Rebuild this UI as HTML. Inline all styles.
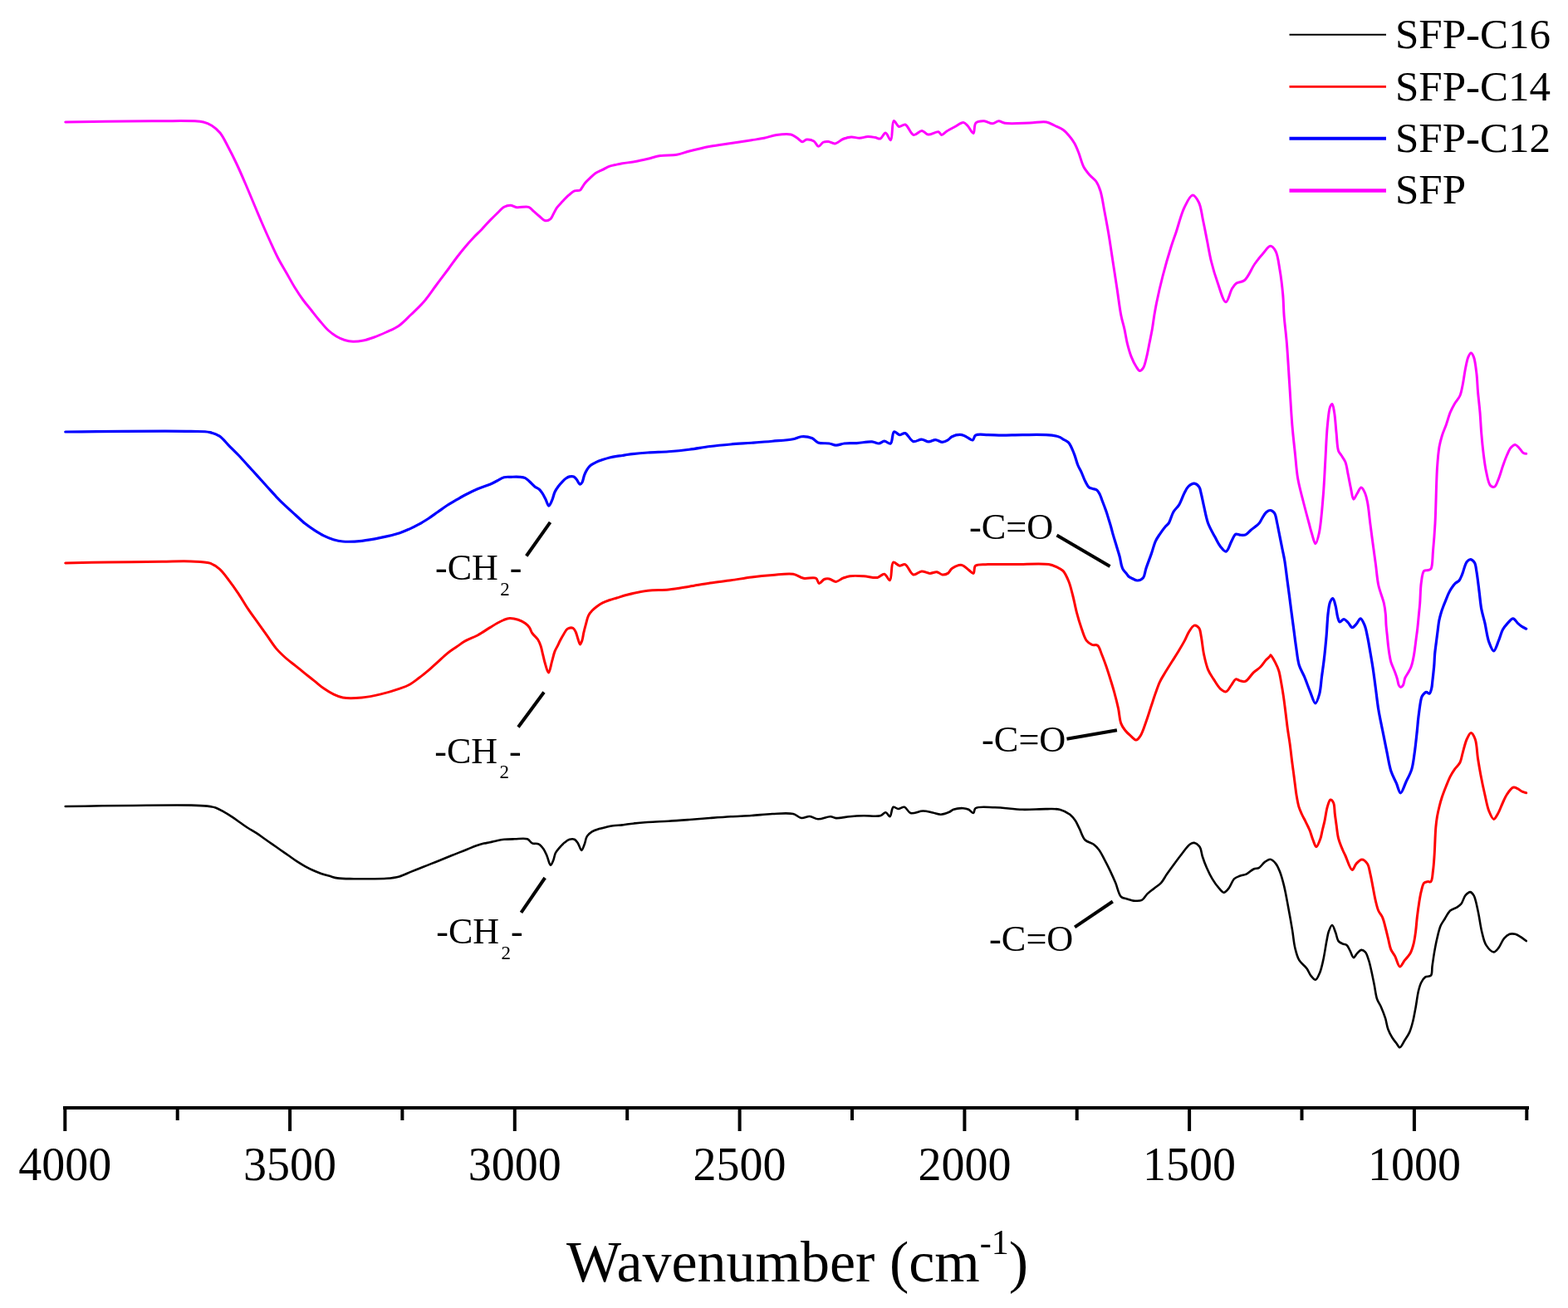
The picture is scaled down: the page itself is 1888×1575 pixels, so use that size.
<!DOCTYPE html>
<html><head><meta charset="utf-8"><title>FTIR spectra</title>
<style>html,body{margin:0;padding:0;background:#fff;width:1888px;height:1575px;overflow:hidden}svg{display:block}</style>
</head><body>
<svg width="1888" height="1575" viewBox="0 0 1888 1575"><rect x="0" y="0" width="1888" height="1575" fill="#fff"/>
<g fill="none" stroke-linejoin="round" stroke-linecap="round">
<path stroke="#ff00ff" stroke-width="3" d="M78.75,147.00C78.75,147.00 159.38,145.57 190.00,145.75C211.53,145.87 234.17,144.66 245.00,147.00C249.81,148.04 251.82,149.25 255.00,151.25C258.52,153.46 261.95,156.27 265.00,160.00C268.76,164.60 271.75,171.43 275.00,177.50C278.42,183.90 281.74,190.60 285.00,197.50C288.42,204.74 291.70,212.38 295.00,220.00C298.37,227.79 301.67,235.83 305.00,243.75C308.33,251.67 311.63,259.71 315.00,267.50C318.30,275.12 321.63,282.63 325.00,290.00C328.29,297.20 331.53,304.57 335.00,311.25C338.22,317.43 341.67,322.92 345.00,328.75C348.33,334.58 351.57,340.70 355.00,346.25C358.25,351.50 361.56,356.55 365.00,361.25C368.24,365.68 371.67,369.58 375.00,373.75C378.33,377.92 381.61,382.24 385.00,386.25C388.28,390.14 391.50,394.28 395.00,397.50C398.19,400.44 401.55,402.96 405.00,405.00C408.23,406.91 411.60,408.46 415.00,409.50C418.27,410.51 421.47,411.12 425.00,411.25C428.93,411.39 433.37,410.82 437.50,410.00C441.71,409.17 445.68,407.79 450.00,406.25C454.82,404.53 460.04,402.27 465.00,400.00C470.04,397.69 475.22,395.79 480.00,392.50C485.27,388.88 490.05,383.49 495.00,378.75C500.05,373.91 505.19,369.30 510.00,363.75C515.22,357.73 520.00,350.42 525.00,343.75C530.00,337.08 535.53,329.81 540.00,323.75C543.69,318.75 546.61,314.44 550.00,310.00C553.28,305.70 556.61,301.51 560.00,297.50C563.28,293.61 566.61,289.84 570.00,286.25C573.28,282.77 576.70,279.69 580.00,276.25C583.37,272.74 586.76,268.75 590.00,265.40C592.91,262.38 595.65,259.71 598.50,257.00C601.28,254.35 603.95,250.92 606.90,249.30C609.36,247.94 612.05,247.13 614.60,247.20C617.15,247.27 619.22,249.26 622.20,249.70C626.20,250.28 633.03,248.03 636.60,249.30C639.23,250.24 640.46,252.64 642.50,254.40C644.69,256.29 646.92,258.42 649.30,260.30C651.74,262.23 654.52,265.45 657.00,265.80C659.02,266.08 661.36,264.98 662.90,263.70C664.50,262.36 665.12,259.90 666.30,257.80C667.64,255.43 668.77,252.65 670.50,250.20C672.38,247.53 674.93,245.02 677.30,242.50C679.72,239.92 682.36,237.10 684.90,234.90C687.16,232.94 689.30,230.76 691.70,229.80C693.86,228.94 696.91,229.93 698.50,229.00C699.75,228.27 700.12,226.86 701.00,225.60C702.06,224.08 703.01,222.19 704.40,220.50C706.02,218.52 708.23,216.54 710.30,214.60C712.46,212.57 714.58,210.29 717.10,208.60C719.67,206.87 722.77,205.80 725.60,204.40C728.43,203.00 731.22,201.26 734.10,200.20C736.85,199.19 739.84,198.69 742.50,198.10C744.88,197.58 746.56,197.26 749.30,196.80C753.45,196.10 759.84,195.44 765.00,194.50C770.07,193.58 775.01,192.41 780.00,191.25C785.01,190.08 789.60,188.34 795.00,187.50C801.15,186.55 808.86,187.30 815.00,186.25C820.41,185.33 824.34,183.45 830.00,182.00C837.25,180.14 846.64,177.84 855.00,176.25C863.30,174.67 871.67,173.75 880.00,172.50C888.33,171.25 897.73,169.90 905.00,168.75C910.64,167.86 915.02,167.29 920.00,166.25C925.02,165.21 929.77,163.22 935.00,162.50C940.57,161.73 948.00,160.88 952.50,162.00C955.66,162.78 957.65,164.75 960.00,166.25C962.22,167.67 964.25,170.63 966.25,170.75C967.98,170.85 969.29,168.27 971.25,168.00C973.71,167.66 977.60,168.57 980.00,170.00C982.31,171.38 983.58,176.12 985.50,176.25C987.34,176.37 989.14,172.19 991.25,171.25C993.17,170.40 995.31,170.30 997.50,170.50C1000.03,170.73 1002.79,173.30 1005.50,173.00C1008.61,172.65 1011.69,168.84 1015.00,167.50C1018.20,166.20 1021.65,165.20 1025.00,165.00C1028.31,164.80 1031.67,166.33 1035.00,166.25C1038.34,166.17 1041.77,164.60 1045.00,164.50C1048.01,164.41 1051.09,165.03 1053.75,165.50C1056.02,165.90 1058.08,167.60 1060.00,167.00C1062.32,166.27 1064.23,159.89 1066.25,160.00C1068.41,160.12 1070.92,169.12 1072.50,168.75C1074.84,168.20 1073.74,146.23 1076.25,145.50C1077.83,145.04 1080.08,151.86 1082.50,152.50C1084.72,153.09 1087.56,149.28 1090.00,150.00C1093.46,151.02 1096.31,161.69 1100.00,162.50C1103.08,163.18 1106.94,157.38 1110.00,157.50C1112.71,157.60 1114.58,161.58 1117.50,162.00C1121.05,162.51 1127.18,157.98 1130.00,158.75C1131.80,159.24 1132.28,162.38 1133.75,162.50C1135.52,162.64 1137.62,159.50 1140.00,158.00C1142.90,156.17 1146.65,154.26 1150.00,152.50C1153.32,150.76 1157.30,147.26 1160.00,147.50C1162.02,147.68 1163.31,149.57 1165.00,151.25C1167.30,153.54 1170.34,160.85 1172.00,160.50C1173.75,160.13 1172.56,150.41 1175.00,148.00C1177.18,145.85 1181.68,145.63 1185.00,145.75C1188.35,145.87 1191.93,148.89 1195.00,148.75C1197.70,148.63 1199.99,145.82 1202.50,145.75C1204.99,145.68 1206.61,147.71 1210.00,148.25C1216.61,149.29 1231.01,148.26 1240.00,148.00C1247.34,147.79 1254.57,146.03 1260.00,147.00C1264.00,147.71 1266.69,149.72 1270.00,151.25C1273.36,152.80 1277.06,154.13 1280.00,156.25C1282.87,158.32 1285.21,161.05 1287.50,163.75C1289.80,166.47 1291.92,169.30 1293.75,172.50C1295.71,175.92 1297.07,179.55 1298.75,183.75C1300.81,188.91 1302.39,196.39 1305.00,201.25C1307.14,205.24 1309.89,208.24 1312.50,211.25C1314.91,214.02 1317.96,215.78 1320.00,218.75C1322.20,221.95 1323.54,225.41 1325.00,230.00C1327.10,236.60 1328.37,246.46 1330.00,255.00C1331.71,263.94 1333.40,272.94 1335.00,282.50C1336.74,292.87 1338.33,304.17 1340.00,315.00C1341.67,325.83 1343.35,336.67 1345.00,347.50C1346.65,358.33 1348.11,371.00 1349.90,380.00C1351.19,386.49 1352.77,391.04 1354.00,396.60C1355.23,402.14 1355.93,407.77 1357.30,413.30C1358.69,418.88 1360.33,424.94 1362.30,429.90C1364.01,434.19 1366.14,438.52 1368.10,441.50C1369.49,443.61 1370.82,446.35 1372.30,446.50C1373.64,446.64 1375.31,444.93 1376.50,443.20C1378.42,440.41 1379.39,434.61 1380.60,429.90C1381.93,424.70 1382.88,418.84 1384.00,413.30C1385.12,407.74 1386.33,402.17 1387.30,396.60C1388.26,391.07 1388.91,385.39 1389.80,380.00C1390.65,374.87 1391.28,370.94 1392.50,365.00C1394.30,356.22 1397.16,343.50 1400.00,332.50C1402.96,321.01 1406.97,307.13 1410.00,297.50C1412.16,290.63 1413.76,286.62 1416.00,280.00C1418.93,271.34 1422.05,258.08 1426.00,250.00C1428.98,243.90 1432.78,235.19 1436.00,235.00C1438.57,234.84 1441.54,239.89 1443.50,243.75C1446.19,249.06 1446.89,257.61 1448.50,265.00C1450.24,272.98 1451.83,281.67 1453.50,290.00C1455.17,298.33 1456.43,306.72 1458.50,315.00C1460.59,323.38 1463.07,331.85 1466.00,340.00C1468.91,348.10 1472.85,363.70 1476.00,363.75C1478.63,363.79 1481.00,351.54 1483.50,347.50C1485.17,344.80 1486.27,342.87 1488.50,341.25C1491.08,339.38 1495.38,340.05 1498.50,337.50C1503.14,333.71 1506.90,323.28 1511.00,317.50C1514.38,312.73 1517.68,308.71 1521.00,305.00C1523.92,301.73 1527.08,296.25 1529.75,296.25C1532.01,296.25 1534.32,299.44 1536.00,302.50C1538.72,307.45 1539.60,316.93 1541.00,325.00C1542.60,334.25 1543.90,345.44 1544.75,355.00C1545.53,363.70 1545.42,371.08 1546.10,380.00C1546.89,390.31 1548.39,401.07 1549.40,413.30C1550.63,428.25 1551.60,446.58 1552.70,463.20C1553.80,479.81 1554.74,498.07 1556.00,513.00C1557.03,525.22 1558.25,535.49 1559.40,546.30C1560.49,556.56 1561.00,566.51 1562.70,576.30C1564.36,585.90 1567.12,595.40 1569.40,604.50C1571.56,613.10 1574.15,622.60 1576.00,629.50C1577.31,634.38 1578.10,637.83 1579.40,642.00C1580.73,646.27 1582.42,654.81 1583.90,654.80C1585.38,654.79 1587.03,647.68 1588.30,642.00C1590.64,631.53 1592.04,611.11 1593.30,596.20C1594.50,582.01 1594.97,568.47 1595.80,554.60C1596.63,540.73 1597.10,524.84 1598.30,513.00C1599.20,504.12 1599.89,493.98 1601.60,489.80C1602.32,488.03 1603.38,486.26 1604.10,486.40C1605.22,486.62 1605.88,492.28 1606.60,496.40C1607.72,502.83 1608.23,513.37 1609.10,521.40C1609.91,528.87 1609.94,538.44 1611.60,543.00C1612.47,545.39 1613.71,546.11 1614.90,548.00C1616.42,550.40 1618.58,553.00 1619.90,556.30C1621.56,560.45 1622.13,566.17 1623.20,571.30C1624.33,576.69 1625.34,582.69 1626.50,587.90C1627.55,592.59 1628.28,600.96 1629.80,601.20C1630.96,601.38 1632.52,596.78 1634.00,594.50C1635.57,592.08 1637.39,587.13 1639.00,587.10C1640.44,587.08 1642.04,590.51 1643.20,592.90C1644.70,596.00 1645.54,599.84 1646.50,604.50C1647.90,611.31 1648.69,621.54 1649.80,630.00C1650.89,638.38 1651.98,646.68 1653.10,655.00C1654.22,663.31 1655.38,671.60 1656.50,679.90C1657.62,688.20 1658.08,696.85 1659.80,704.80C1661.44,712.35 1664.95,720.07 1666.40,726.50C1667.52,731.49 1667.97,735.56 1668.40,740.00C1668.82,744.29 1668.68,748.47 1669.00,752.70C1669.32,756.94 1669.87,761.17 1670.30,765.40C1670.73,769.63 1671.13,774.18 1671.60,778.10C1672.01,781.50 1672.37,784.44 1672.90,787.60C1673.43,790.77 1673.97,794.28 1674.80,797.10C1675.50,799.48 1676.46,801.38 1677.30,803.50C1678.13,805.61 1678.99,807.58 1679.80,809.80C1680.69,812.23 1681.65,814.93 1682.40,817.50C1683.14,820.03 1683.37,823.33 1684.30,825.10C1684.91,826.26 1685.69,827.54 1686.50,827.60C1687.37,827.66 1688.60,826.35 1689.40,825.10C1690.64,823.15 1690.76,818.86 1691.90,816.20C1692.92,813.82 1694.52,811.94 1695.70,809.80C1696.85,807.71 1698.04,805.65 1698.90,803.50C1699.73,801.41 1700.22,799.46 1700.80,797.10C1701.50,794.26 1702.17,790.77 1702.70,787.60C1703.23,784.44 1703.58,781.27 1704.00,778.10C1704.42,774.93 1704.78,771.77 1705.20,768.60C1705.62,765.41 1706.09,762.43 1706.50,759.00C1706.97,755.07 1707.45,749.80 1707.80,746.30C1708.04,743.84 1708.16,742.50 1708.40,740.00C1708.75,736.35 1709.28,731.69 1709.70,726.50C1710.27,719.44 1710.22,708.61 1711.30,701.50C1712.12,696.09 1712.51,689.47 1714.70,687.40C1716.00,686.18 1718.23,686.98 1719.70,686.50C1720.95,686.09 1722.12,686.14 1723.00,684.90C1725.14,681.88 1724.74,671.28 1725.50,663.30C1726.44,653.41 1727.27,643.03 1728.00,630.00C1729.04,611.52 1729.34,579.82 1730.50,562.90C1731.21,552.57 1731.79,544.97 1733.00,538.00C1733.89,532.84 1734.93,529.09 1736.30,524.70C1737.69,520.23 1739.68,515.98 1741.30,511.40C1743.01,506.57 1744.46,500.84 1746.30,496.40C1747.85,492.67 1749.40,489.67 1751.30,486.40C1753.26,483.03 1756.27,480.20 1757.90,476.50C1759.65,472.53 1760.18,468.11 1761.20,463.20C1762.45,457.23 1763.35,449.17 1764.60,443.20C1765.62,438.29 1766.46,433.18 1767.90,429.90C1768.85,427.73 1770.10,424.90 1771.20,424.90C1772.30,424.90 1773.57,427.55 1774.50,429.90C1776.21,434.22 1777.07,443.00 1777.90,449.80C1778.76,456.86 1778.85,464.02 1779.50,471.50C1780.20,479.52 1781.30,488.09 1782.00,496.40C1782.70,504.72 1783.00,513.08 1783.70,521.40C1784.40,529.71 1785.19,538.31 1786.20,546.30C1787.14,553.77 1788.00,561.21 1789.50,567.90C1790.84,573.87 1791.95,582.00 1794.50,584.60C1795.90,586.03 1798.05,586.81 1799.50,586.20C1801.61,585.31 1802.96,580.00 1804.50,576.30C1806.34,571.88 1807.79,566.13 1809.50,561.30C1811.12,556.72 1812.70,551.97 1814.50,548.00C1816.04,544.60 1817.45,540.95 1819.40,538.80C1820.88,537.17 1822.77,535.41 1824.40,535.50C1826.10,535.60 1827.79,538.12 1829.40,539.70C1831.14,541.42 1832.74,544.49 1834.40,545.50C1835.50,546.17 1837.70,546.30 1837.70,546.30"/>
<path stroke="#0000ff" stroke-width="3.2" d="M78.75,520.00C78.75,520.00 201.76,518.72 230.00,519.40C241.00,519.67 246.67,519.25 252.90,520.60C257.45,521.59 260.73,522.75 264.30,525.10C268.40,527.81 271.90,532.78 275.70,536.60C279.50,540.41 283.34,544.06 287.10,548.00C290.97,552.05 294.78,556.41 298.60,560.60C302.41,564.77 306.20,568.92 310.00,573.10C313.80,577.29 317.60,581.50 321.40,585.70C325.20,589.90 328.94,594.26 332.80,598.30C336.57,602.25 340.43,606.04 344.30,609.70C348.07,613.27 351.90,616.57 355.70,620.00C359.50,623.43 363.20,627.19 367.10,630.30C370.81,633.26 374.64,635.81 378.50,638.30C382.28,640.74 386.10,643.17 390.00,645.10C393.74,646.95 397.55,648.54 401.40,649.70C405.15,650.82 408.32,651.62 412.80,652.00C419.09,652.53 428.10,652.06 435.70,651.30C443.34,650.53 450.92,648.99 458.50,647.40C466.15,645.79 475.14,643.73 481.40,641.70C485.92,640.23 489.03,638.80 492.80,637.10C496.63,635.37 500.43,633.47 504.20,631.40C508.07,629.28 511.92,626.96 515.70,624.50C519.55,622.00 523.30,619.17 527.10,616.50C530.90,613.83 534.65,610.99 538.50,608.50C542.26,606.07 546.20,603.85 549.90,601.70C553.36,599.69 556.27,597.95 560.00,596.00C564.47,593.66 569.95,590.90 575.00,588.75C579.95,586.64 585.75,585.03 590.00,583.20C593.28,581.79 595.68,580.42 598.50,579.00C601.31,577.58 604.01,575.47 606.90,574.70C609.65,573.97 612.44,574.37 615.40,574.30C618.64,574.22 622.56,574.01 625.60,574.30C628.11,574.54 630.40,574.66 632.40,575.60C634.35,576.52 635.71,578.22 637.50,579.80C639.61,581.68 642.03,584.56 644.20,586.20C645.94,587.51 647.86,587.96 649.30,589.20C650.67,590.38 651.58,591.74 652.70,593.40C654.12,595.51 655.56,598.41 656.90,601.00C658.26,603.64 659.45,609.04 660.80,609.10C662.03,609.15 663.48,605.15 664.60,602.70C665.95,599.76 666.60,595.47 668.00,592.50C669.20,589.95 670.65,587.92 672.20,585.80C673.75,583.69 675.63,581.53 677.30,579.80C678.72,578.34 680.02,577.00 681.50,576.00C682.86,575.08 684.27,574.25 685.80,573.90C687.36,573.54 689.39,573.32 690.80,573.90C692.18,574.47 693.05,575.96 694.20,577.30C695.61,578.95 697.21,583.10 698.50,583.20C699.40,583.27 700.28,581.90 701.00,580.70C702.15,578.79 702.56,574.84 703.60,572.20C704.56,569.77 705.58,567.43 706.90,565.40C708.14,563.49 709.51,561.71 711.20,560.30C712.91,558.87 714.91,557.95 717.10,556.90C719.63,555.69 722.75,554.59 725.60,553.60C728.42,552.62 731.26,551.72 734.10,551.00C736.89,550.29 739.84,549.72 742.50,549.30C744.88,548.92 747.14,548.82 749.30,548.50C751.29,548.21 752.42,547.85 755.00,547.50C760.38,546.76 771.66,545.63 780.00,545.00C788.33,544.38 796.67,544.37 805.00,543.75C813.34,543.12 821.68,542.29 830.00,541.25C838.35,540.21 846.65,538.54 855.00,537.50C863.32,536.46 871.66,535.71 880.00,535.00C888.33,534.29 896.67,533.87 905.00,533.25C913.33,532.62 921.67,532.00 930.00,531.25C938.34,530.50 948.59,530.02 955.00,528.75C959.13,527.93 961.45,526.02 965.00,525.75C968.90,525.45 974.01,526.08 977.50,527.50C980.50,528.72 981.95,531.87 985.00,533.00C988.65,534.35 994.41,533.34 998.30,534.00C1001.42,534.53 1003.70,536.14 1006.60,536.20C1009.77,536.27 1012.91,534.45 1016.60,534.00C1021.07,533.45 1026.36,533.91 1031.60,533.60C1037.40,533.25 1045.02,531.52 1049.90,531.90C1053.23,532.16 1055.62,534.20 1058.20,534.00C1060.56,533.82 1062.52,531.25 1064.80,531.20C1067.21,531.15 1070.42,534.93 1072.30,534.00C1074.84,532.73 1074.13,520.86 1076.50,519.90C1078.20,519.21 1080.84,523.35 1083.10,523.60C1085.28,523.84 1087.52,521.02 1089.80,521.60C1093.04,522.42 1096.17,530.60 1099.80,531.60C1102.89,532.45 1106.55,528.98 1109.70,529.10C1112.63,529.21 1115.30,531.83 1118.10,531.90C1120.86,531.97 1123.64,529.52 1126.40,529.60C1129.18,529.68 1132.10,532.45 1134.70,532.40C1137.03,532.36 1139.34,531.05 1141.30,529.90C1143.19,528.79 1144.11,526.72 1146.30,525.70C1149.25,524.32 1154.71,523.19 1158.00,523.60C1160.57,523.92 1162.40,525.56 1164.60,526.60C1166.83,527.66 1169.62,530.42 1171.30,529.90C1172.89,529.41 1172.61,525.30 1174.60,524.10C1177.59,522.29 1184.47,523.61 1189.60,523.60C1194.99,523.59 1200.11,524.07 1206.20,524.10C1213.66,524.14 1222.07,523.63 1231.10,523.60C1241.89,523.57 1258.44,523.04 1266.60,524.10C1271.00,524.67 1274.20,525.56 1276.60,526.60C1278.10,527.25 1278.68,527.96 1280.00,528.80C1281.83,529.96 1284.65,530.76 1286.60,532.90C1289.31,535.87 1291.42,541.74 1293.30,546.30C1295.14,550.78 1296.15,555.98 1297.80,560.00C1299.17,563.34 1300.77,565.77 1302.20,568.90C1303.74,572.28 1305.08,576.45 1306.70,579.60C1308.08,582.27 1309.34,585.25 1311.10,586.70C1312.43,587.80 1314.03,587.84 1315.60,588.40C1317.29,589.01 1319.46,589.08 1320.90,590.20C1322.44,591.40 1323.40,593.62 1324.40,595.60C1325.49,597.75 1326.20,600.33 1327.10,602.70C1328.00,605.07 1328.92,607.43 1329.80,609.80C1330.68,612.16 1331.56,614.39 1332.40,616.90C1333.33,619.69 1334.20,622.83 1335.10,625.80C1336.00,628.77 1336.93,631.66 1337.80,634.70C1338.70,637.86 1339.50,641.24 1340.40,644.40C1341.27,647.44 1342.20,650.33 1343.10,653.30C1344.00,656.27 1344.92,659.23 1345.80,662.20C1346.68,665.16 1347.66,668.12 1348.40,671.10C1349.13,674.05 1349.51,677.43 1350.20,680.00C1350.74,682.01 1351.06,683.61 1352.00,685.30C1353.05,687.19 1355.12,689.09 1356.40,690.70C1357.42,691.99 1357.99,693.24 1359.10,694.20C1360.24,695.19 1361.64,695.77 1363.20,696.50C1365.11,697.39 1367.61,699.10 1369.80,699.00C1372.05,698.89 1374.87,697.62 1376.50,695.70C1378.51,693.34 1378.45,688.95 1379.80,684.90C1381.57,679.58 1384.38,672.41 1386.40,666.60C1388.22,661.36 1389.47,655.78 1391.40,651.60C1392.91,648.33 1394.54,646.09 1396.40,643.30C1398.41,640.29 1401.06,636.60 1403.10,634.20C1404.57,632.47 1405.89,631.97 1407.20,630.00C1409.29,626.85 1410.69,620.10 1413.00,616.20C1414.96,612.90 1417.66,611.15 1419.70,607.80C1422.22,603.67 1424.18,596.95 1426.40,592.90C1428.04,589.90 1429.24,587.22 1431.30,585.40C1433.18,583.74 1435.89,581.93 1438.00,582.10C1440.05,582.26 1442.43,584.29 1443.80,586.20C1445.32,588.31 1445.47,591.31 1446.30,594.50C1447.41,598.75 1448.35,604.12 1449.60,609.50C1451.06,615.81 1452.27,623.65 1454.60,630.00C1456.78,635.96 1460.21,641.58 1462.90,646.60C1465.19,650.88 1467.09,655.23 1469.60,658.30C1471.62,660.78 1474.19,664.46 1476.20,664.10C1478.75,663.64 1480.79,655.32 1482.90,651.60C1484.65,648.53 1485.86,644.25 1487.90,643.30C1489.37,642.62 1491.11,643.96 1492.90,644.10C1494.94,644.26 1497.43,644.87 1499.50,644.10C1501.90,643.20 1503.73,640.39 1506.20,638.30C1509.19,635.77 1513.90,632.67 1516.20,630.00C1517.81,628.12 1518.26,626.46 1519.50,624.50C1520.97,622.18 1522.58,618.69 1524.50,617.00C1526.01,615.67 1527.86,614.40 1529.50,614.50C1531.20,614.60 1533.20,616.01 1534.50,617.80C1536.38,620.40 1536.89,626.12 1537.80,630.00C1538.62,633.48 1539.01,636.06 1539.80,640.00C1540.94,645.72 1542.74,654.72 1544.00,661.00C1545.03,666.11 1545.94,669.77 1546.80,674.90C1547.85,681.16 1548.67,688.91 1549.60,695.90C1550.53,702.88 1551.48,709.82 1552.40,716.80C1553.32,723.79 1554.18,730.80 1555.10,737.80C1556.02,744.80 1556.97,751.81 1557.90,758.80C1558.83,765.78 1559.65,772.73 1560.70,779.70C1561.75,786.70 1562.33,794.51 1564.20,800.70C1565.79,805.95 1568.41,809.70 1570.50,814.70C1572.85,820.32 1575.15,827.18 1577.50,832.80C1579.59,837.80 1581.84,846.81 1583.80,846.80C1585.55,846.79 1587.47,840.01 1588.70,835.60C1590.32,829.80 1590.57,821.68 1591.50,814.70C1592.43,807.71 1593.42,801.20 1594.30,793.70C1595.31,785.07 1596.28,775.11 1597.10,765.80C1597.92,756.48 1598.22,745.34 1599.20,737.80C1599.87,732.62 1600.23,727.83 1601.60,724.80C1602.47,722.87 1603.92,720.44 1604.90,720.60C1606.22,720.81 1607.28,726.41 1608.20,729.80C1609.28,733.79 1609.64,739.62 1610.70,743.10C1611.43,745.48 1611.92,748.52 1613.20,748.90C1614.44,749.27 1616.56,745.52 1618.20,745.60C1619.90,745.69 1621.60,748.13 1623.20,749.70C1624.95,751.42 1626.46,755.45 1628.20,755.60C1629.80,755.74 1631.62,753.06 1633.20,751.40C1634.98,749.53 1636.59,744.71 1638.20,744.80C1639.94,744.89 1641.87,749.89 1643.20,753.10C1644.78,756.91 1645.47,761.60 1646.50,766.40C1647.70,772.00 1648.72,778.47 1649.80,784.70C1650.92,791.19 1652.04,797.58 1653.10,804.60C1654.28,812.45 1655.38,821.27 1656.50,829.60C1657.62,837.91 1658.43,846.17 1659.80,854.50C1661.19,862.97 1663.12,871.55 1664.80,880.00C1666.46,888.35 1668.11,896.74 1669.80,904.90C1671.44,912.80 1672.59,921.38 1674.80,928.20C1676.63,933.85 1679.36,938.52 1681.40,943.20C1683.19,947.31 1684.56,954.75 1686.40,954.80C1688.40,954.85 1690.83,946.08 1693.00,941.50C1695.27,936.70 1698.05,931.93 1699.70,926.60C1701.46,920.91 1701.99,915.08 1703.00,908.30C1704.24,899.91 1705.41,888.27 1706.30,880.00C1706.99,873.56 1707.21,868.92 1708.00,862.80C1708.91,855.72 1710.17,844.21 1711.60,840.00C1712.19,838.25 1712.63,837.57 1713.50,836.50C1714.47,835.31 1715.98,833.46 1717.30,833.30C1718.52,833.16 1720.09,835.58 1721.10,835.20C1722.38,834.72 1723.08,831.26 1723.70,828.90C1724.44,826.10 1724.47,823.13 1724.90,819.40C1725.51,814.08 1726.44,805.72 1726.90,800.00C1727.26,795.47 1727.22,792.00 1727.60,787.80C1728.00,783.29 1728.72,778.47 1729.30,773.80C1729.88,769.13 1730.50,764.33 1731.10,759.80C1731.67,755.51 1732.04,751.19 1732.80,747.30C1733.48,743.81 1734.38,740.55 1735.30,737.50C1736.13,734.76 1737.06,732.30 1738.00,729.80C1738.90,727.40 1739.81,725.24 1740.80,722.80C1741.89,720.12 1743.05,716.95 1744.30,714.40C1745.40,712.14 1746.51,710.17 1747.80,708.20C1749.08,706.24 1750.41,704.15 1752.00,702.60C1753.47,701.16 1755.55,700.68 1756.90,699.10C1758.44,697.30 1759.67,693.79 1760.40,692.10C1760.80,691.17 1760.82,690.94 1761.20,689.90C1762.15,687.33 1764.12,679.30 1766.20,676.60C1767.45,674.97 1768.95,673.58 1770.40,673.60C1772.00,673.62 1774.18,675.51 1775.40,677.40C1777.02,679.91 1777.11,683.83 1777.90,688.20C1779.09,694.79 1780.19,705.34 1781.20,713.20C1782.10,720.21 1782.53,726.80 1783.70,733.10C1784.78,738.92 1786.41,743.69 1787.80,749.70C1789.44,756.80 1790.53,766.83 1792.80,773.00C1794.43,777.42 1796.70,783.85 1798.60,783.80C1800.61,783.75 1802.70,775.64 1804.50,771.40C1806.34,767.08 1807.55,761.67 1809.50,758.10C1811.00,755.36 1812.55,753.53 1814.50,751.40C1816.63,749.08 1819.61,744.73 1821.90,744.80C1823.98,744.86 1825.78,748.88 1827.70,750.60C1829.41,752.14 1831.06,753.57 1832.80,754.70C1834.40,755.73 1837.70,757.20 1837.70,757.20"/>
<path stroke="#ff0000" stroke-width="3" d="M78.75,678.00C78.75,678.00 111.90,677.28 130.00,677.00C150.38,676.68 176.66,676.42 195.00,676.25C208.46,676.12 219.58,675.54 230.00,676.00C238.45,676.37 246.77,676.17 252.90,678.20C257.57,679.75 260.74,682.04 264.30,685.10C268.42,688.64 271.99,693.98 275.70,698.80C279.60,703.86 283.37,709.23 287.10,714.80C291.01,720.64 294.69,727.26 298.60,733.10C302.33,738.67 306.20,743.77 310.00,749.10C313.80,754.43 317.60,759.77 321.40,765.10C325.20,770.43 328.78,776.37 332.80,781.10C336.45,785.40 340.38,789.01 344.30,792.50C348.02,795.81 351.90,798.55 355.70,801.60C359.50,804.65 363.30,807.75 367.10,810.80C370.90,813.85 374.69,816.86 378.50,819.90C382.33,822.96 386.08,826.38 390.00,829.10C393.72,831.68 397.51,834.06 401.40,835.90C405.12,837.66 408.26,839.21 412.80,840.00C419.04,841.09 428.11,840.68 435.70,840.00C443.34,839.32 450.94,837.70 458.50,835.90C466.18,834.08 475.13,831.29 481.40,829.10C485.90,827.53 489.11,826.50 492.80,824.50C496.73,822.37 500.43,819.31 504.20,816.50C508.07,813.62 511.93,810.59 515.70,807.40C519.56,804.13 523.30,800.53 527.10,797.10C530.90,793.67 534.60,789.91 538.50,786.80C542.21,783.84 546.21,781.36 549.90,778.80C553.36,776.40 556.20,774.05 560.00,771.90C564.41,769.40 570.08,767.66 575.00,765.00C580.09,762.25 585.69,758.24 590.00,755.60C593.22,753.62 595.64,752.07 598.50,750.50C601.28,748.97 604.19,747.30 606.90,746.30C609.24,745.44 611.19,744.70 613.70,744.60C616.75,744.48 620.73,745.28 623.90,746.30C626.94,747.28 630.04,748.81 632.40,750.50C634.46,751.98 636.11,753.65 637.50,755.60C638.92,757.60 639.31,760.17 640.80,762.40C642.54,764.99 645.87,767.32 647.60,770.00C649.17,772.42 650.04,774.84 651.00,777.60C652.08,780.71 652.75,784.40 653.60,787.80C654.45,791.20 655.03,794.49 656.10,798.00C657.28,801.87 659.12,810.04 660.50,810.00C661.96,809.96 663.31,800.71 664.60,796.30C665.80,792.20 666.69,787.76 668.00,784.40C669.03,781.76 670.28,779.87 671.40,777.60C672.51,775.34 673.49,773.11 674.70,770.80C676.00,768.32 677.51,765.54 679.00,763.20C680.35,761.07 681.33,758.43 683.20,757.30C685.02,756.20 688.28,755.62 690.00,756.40C691.62,757.14 692.46,759.55 693.40,761.50C694.48,763.74 695.02,766.73 695.90,769.20C696.73,771.52 697.60,775.86 698.50,775.90C699.30,775.93 700.33,772.76 701.00,770.80C701.82,768.39 702.03,765.33 702.70,762.40C703.44,759.16 704.34,755.65 705.30,752.20C706.30,748.59 707.11,744.20 708.60,741.20C709.79,738.81 711.24,737.11 712.90,735.30C714.62,733.43 716.70,731.76 718.80,730.20C720.93,728.62 723.14,727.15 725.60,725.90C728.22,724.56 731.25,723.49 734.10,722.50C736.89,721.53 739.42,720.92 742.50,720.00C746.25,718.88 750.08,717.48 755.00,716.25C761.87,714.54 771.63,712.29 780.00,711.25C788.30,710.22 796.69,710.83 805.00,710.00C813.35,709.17 821.67,707.58 830.00,706.25C838.34,704.92 846.65,703.25 855.00,702.00C863.32,700.75 871.67,699.92 880.00,698.75C888.34,697.58 896.65,696.04 905.00,695.00C913.32,693.96 921.66,693.13 930.00,692.50C938.33,691.88 948.20,690.12 955.00,691.25C959.99,692.08 963.06,695.39 967.50,696.25C972.19,697.15 979.39,694.49 982.50,696.25C984.67,697.48 984.64,702.21 986.25,702.50C987.94,702.80 990.32,698.37 992.50,697.50C994.36,696.76 996.23,696.68 998.30,697.00C1000.86,697.39 1003.86,700.51 1006.60,700.40C1009.39,700.29 1012.07,697.33 1014.90,696.20C1017.64,695.11 1019.99,694.18 1023.30,693.70C1027.86,693.04 1034.37,693.42 1039.90,693.70C1045.44,693.98 1052.01,696.23 1056.50,695.40C1059.85,694.78 1062.34,690.73 1064.80,691.20C1067.36,691.68 1069.79,699.17 1071.50,698.70C1074.02,698.00 1072.61,678.52 1075.60,677.10C1077.47,676.22 1080.61,680.87 1083.10,681.20C1085.34,681.50 1087.58,678.84 1089.80,679.60C1093.17,680.75 1096.09,691.05 1099.80,692.00C1102.84,692.78 1106.35,688.15 1109.70,687.90C1112.99,687.66 1116.51,690.33 1119.70,690.40C1122.59,690.46 1125.43,688.37 1128.00,688.70C1130.41,689.01 1132.43,691.75 1134.70,692.00C1136.87,692.24 1139.41,691.56 1141.30,690.40C1143.31,689.17 1144.02,686.17 1146.30,684.60C1149.20,682.60 1154.54,679.94 1158.00,680.40C1161.12,680.82 1163.79,684.41 1166.30,686.20C1168.41,687.70 1170.73,690.88 1172.10,690.40C1173.68,689.84 1172.38,683.10 1174.60,681.20C1177.40,678.81 1183.61,679.92 1189.60,679.60C1198.49,679.13 1211.23,679.60 1222.80,679.60C1235.49,679.60 1253.90,678.19 1262.70,679.60C1267.22,680.33 1269.70,681.50 1272.70,682.90C1275.41,684.16 1277.87,685.14 1280.00,687.40C1282.73,690.29 1284.83,695.25 1286.70,699.80C1288.78,704.85 1290.04,710.55 1291.60,716.50C1293.36,723.21 1294.82,731.40 1296.60,738.10C1298.18,744.02 1299.67,749.20 1301.60,754.70C1303.56,760.30 1305.46,767.69 1308.30,771.40C1310.22,773.92 1312.56,775.45 1314.90,776.40C1317.02,777.25 1319.79,775.88 1321.60,777.20C1324.01,778.95 1325.00,784.18 1326.60,788.00C1328.35,792.17 1329.99,796.72 1331.60,801.30C1333.30,806.13 1334.89,811.16 1336.50,816.30C1338.19,821.68 1339.90,827.09 1341.50,832.90C1343.25,839.24 1345.09,846.37 1346.50,852.90C1347.83,859.09 1348.01,866.32 1349.80,871.10C1351.10,874.58 1352.83,876.98 1354.80,879.50C1356.74,881.97 1359.21,884.12 1361.50,886.10C1363.65,887.96 1366.11,891.24 1368.10,891.10C1369.94,890.97 1371.53,888.47 1373.10,886.10C1375.59,882.34 1377.67,875.33 1379.80,869.50C1382.12,863.18 1384.35,855.67 1386.40,849.50C1388.18,844.17 1389.69,839.41 1391.40,834.60C1393.03,830.03 1394.42,825.52 1396.40,821.30C1398.33,817.19 1400.71,813.60 1403.10,809.60C1405.68,805.28 1408.63,800.73 1411.40,796.30C1414.17,791.87 1417.12,787.30 1419.70,783.00C1422.09,779.02 1424.40,775.16 1426.40,771.40C1428.23,767.98 1429.34,764.48 1431.30,761.40C1433.22,758.39 1435.65,753.55 1438.00,753.10C1439.86,752.75 1442.43,754.59 1443.80,756.40C1445.50,758.64 1445.50,762.41 1446.30,766.40C1447.47,772.21 1448.14,781.14 1449.60,788.00C1450.96,794.39 1452.39,801.01 1454.60,806.30C1456.45,810.74 1458.85,814.08 1461.30,817.90C1463.83,821.85 1466.66,827.08 1469.60,829.60C1471.71,831.41 1474.16,833.34 1476.20,832.90C1478.66,832.37 1480.85,827.24 1482.90,824.60C1484.71,822.27 1485.99,818.49 1487.90,817.90C1489.42,817.43 1491.09,819.19 1492.90,819.60C1494.93,820.06 1497.28,821.21 1499.50,820.40C1502.80,819.19 1506.21,812.65 1509.50,809.60C1512.30,807.01 1515.31,805.49 1517.80,803.00C1520.31,800.49 1522.36,796.97 1524.50,794.60C1526.23,792.69 1528.72,790.72 1529.50,789.70C1529.80,789.31 1529.74,788.81 1530.00,788.80C1530.85,788.78 1533.97,794.75 1535.60,797.90C1537.23,801.05 1538.67,804.08 1539.80,807.70C1541.10,811.87 1541.71,816.74 1542.60,821.60C1543.58,826.93 1544.52,832.44 1545.40,838.40C1546.40,845.14 1547.33,853.15 1548.20,860.00C1548.99,866.22 1549.58,871.87 1550.40,877.80C1551.22,883.74 1552.24,889.33 1553.10,895.60C1554.05,902.59 1554.97,911.35 1555.80,917.80C1556.44,922.80 1557.02,926.67 1557.60,931.10C1558.18,935.53 1558.72,939.96 1559.30,944.40C1559.88,948.86 1560.35,953.35 1561.10,957.80C1561.85,962.25 1562.63,967.16 1563.80,971.10C1564.78,974.41 1565.98,977.06 1567.30,980.00C1568.64,983.00 1570.40,986.10 1571.80,988.90C1573.05,991.40 1574.34,993.96 1575.30,996.00C1576.01,997.52 1576.43,998.30 1577.10,1000.00C1578.21,1002.82 1579.59,1008.03 1581.00,1011.50C1582.22,1014.50 1583.50,1019.69 1584.90,1019.70C1586.45,1019.72 1588.67,1013.08 1589.90,1009.70C1591.06,1006.51 1591.40,1003.34 1592.20,1000.00C1593.06,996.42 1593.99,993.05 1594.90,988.90C1596.05,983.68 1596.90,975.80 1598.40,971.10C1599.44,967.83 1600.59,963.36 1602.00,963.10C1603.08,962.90 1604.72,964.92 1605.60,966.70C1607.02,969.60 1606.72,975.57 1607.30,980.00C1607.88,984.43 1608.43,988.64 1609.10,993.30C1609.85,998.48 1610.28,1004.58 1611.60,1009.70C1612.82,1014.43 1614.95,1019.30 1616.50,1023.00C1617.65,1025.73 1618.45,1027.14 1619.80,1030.00C1621.94,1034.52 1625.53,1047.31 1628.10,1047.50C1629.86,1047.63 1631.10,1042.11 1633.10,1040.00C1635.03,1037.97 1637.58,1034.99 1639.80,1035.00C1642.01,1035.01 1644.77,1037.64 1646.40,1040.00C1648.37,1042.85 1648.76,1047.36 1649.80,1051.60C1651.03,1056.64 1652.00,1062.74 1653.10,1068.30C1654.20,1073.84 1655.19,1079.88 1656.40,1084.90C1657.42,1089.13 1658.20,1093.04 1659.70,1096.50C1661.04,1099.60 1663.34,1101.70 1664.70,1104.80C1666.22,1108.28 1667.01,1112.46 1668.10,1116.50C1669.25,1120.78 1670.30,1125.37 1671.40,1129.80C1672.50,1134.23 1673.12,1139.29 1674.70,1143.10C1676.03,1146.31 1678.05,1148.30 1679.70,1151.40C1681.66,1155.09 1683.35,1163.66 1685.50,1163.90C1687.28,1164.10 1689.28,1158.95 1691.30,1156.40C1693.44,1153.69 1696.23,1151.28 1698.00,1148.10C1699.91,1144.68 1701.02,1140.58 1702.10,1136.40C1703.29,1131.78 1703.91,1126.62 1704.60,1121.50C1705.33,1116.10 1705.62,1110.49 1706.30,1104.80C1707.01,1098.83 1707.89,1092.10 1708.80,1086.50C1709.58,1081.70 1710.24,1077.27 1711.30,1073.20C1712.23,1069.62 1712.88,1065.13 1714.60,1063.30C1715.73,1062.09 1717.38,1061.88 1718.80,1061.60C1720.15,1061.34 1721.85,1062.47 1722.90,1061.60C1724.81,1060.03 1724.82,1053.11 1725.50,1048.30C1726.29,1042.70 1726.62,1037.02 1727.10,1030.00C1727.76,1020.49 1728.03,1005.04 1728.80,996.40C1729.29,990.95 1729.77,987.37 1730.50,983.10C1731.19,979.09 1732.04,975.36 1733.00,971.50C1733.97,967.59 1734.99,963.80 1736.30,959.80C1737.72,955.48 1739.58,950.76 1741.30,946.50C1742.92,942.48 1744.51,938.39 1746.30,934.90C1747.87,931.84 1749.42,929.31 1751.30,926.60C1753.27,923.77 1756.27,921.49 1757.90,918.30C1759.65,914.88 1759.97,910.83 1761.20,906.60C1762.67,901.54 1764.16,894.33 1766.20,890.00C1767.67,886.88 1769.53,882.50 1771.20,882.50C1772.87,882.50 1774.91,886.62 1776.20,890.00C1778.28,895.46 1778.34,905.85 1779.50,913.30C1780.58,920.20 1781.59,926.32 1782.90,933.20C1784.32,940.67 1786.08,949.05 1787.80,956.50C1789.40,963.44 1790.60,971.12 1792.80,976.50C1794.44,980.52 1796.65,986.28 1798.60,986.40C1800.26,986.50 1802.01,982.49 1803.60,979.80C1805.70,976.23 1807.57,970.60 1809.50,966.50C1811.19,962.91 1812.43,959.55 1814.50,956.50C1816.56,953.45 1819.34,948.95 1821.90,948.20C1823.78,947.64 1825.89,948.97 1827.70,949.80C1829.53,950.63 1831.06,952.35 1832.80,953.20C1834.40,953.98 1837.70,954.80 1837.70,954.80"/>
<path stroke="#000000" stroke-width="2.6" d="M78.75,971.00C78.75,971.00 203.31,969.04 230.00,969.60C239.61,969.80 244.21,969.94 249.60,970.60C253.45,971.07 256.21,971.41 259.40,972.50C262.75,973.64 265.97,975.62 269.20,977.40C272.50,979.22 275.77,981.19 279.00,983.30C282.31,985.45 285.53,987.91 288.80,990.20C292.06,992.48 295.30,994.86 298.60,997.00C301.83,999.09 305.17,1000.79 308.40,1002.90C311.71,1005.05 314.93,1007.51 318.20,1009.80C321.46,1012.08 324.74,1014.32 328.00,1016.60C331.27,1018.89 334.53,1021.21 337.80,1023.50C341.06,1025.78 344.34,1028.02 347.60,1030.30C350.87,1032.59 354.09,1035.05 357.40,1037.20C360.63,1039.31 363.90,1041.28 367.20,1043.10C370.43,1044.88 373.70,1046.52 377.00,1048.00C380.24,1049.45 383.51,1050.76 386.80,1051.90C390.04,1053.02 393.33,1053.88 396.60,1054.80C399.86,1055.71 402.54,1056.82 406.40,1057.40C411.78,1058.21 419.47,1058.07 426.00,1058.20C432.53,1058.33 439.07,1058.27 445.60,1058.20C452.13,1058.13 459.06,1058.33 465.20,1057.80C470.71,1057.32 475.84,1056.76 480.80,1055.40C485.59,1054.09 490.31,1051.57 494.50,1049.90C498.04,1048.49 501.03,1047.30 504.30,1046.00C507.57,1044.70 510.83,1043.40 514.10,1042.10C517.37,1040.80 520.63,1039.50 523.90,1038.20C527.17,1036.90 530.44,1035.62 533.70,1034.30C536.97,1032.98 540.23,1031.62 543.50,1030.30C546.76,1028.98 550.03,1027.70 553.30,1026.40C556.57,1025.10 559.83,1023.80 563.10,1022.50C566.37,1021.20 569.61,1019.76 572.90,1018.60C576.14,1017.46 579.65,1016.33 582.70,1015.60C585.29,1014.97 587.48,1014.83 590.00,1014.30C592.73,1013.72 595.66,1012.79 598.50,1012.20C601.30,1011.62 603.80,1011.12 606.90,1010.80C610.71,1010.41 615.25,1010.39 619.70,1010.30C624.55,1010.21 631.19,1008.92 634.90,1010.30C637.56,1011.29 638.53,1014.40 640.80,1015.40C643.06,1016.40 646.26,1015.22 648.50,1016.30C650.82,1017.42 652.75,1019.90 654.40,1022.20C656.16,1024.65 657.25,1027.65 658.60,1030.70C660.10,1034.10 661.43,1041.59 662.90,1041.70C664.01,1041.78 665.35,1038.01 666.30,1035.80C667.38,1033.28 667.58,1029.78 668.80,1027.30C669.91,1025.05 671.42,1023.37 673.10,1021.40C675.02,1019.14 677.52,1016.44 679.80,1014.60C681.77,1013.01 683.72,1011.40 685.80,1010.80C687.70,1010.25 690.03,1010.06 691.70,1010.80C693.41,1011.56 694.61,1013.53 695.90,1015.40C697.50,1017.72 698.85,1023.90 700.20,1023.90C701.40,1023.90 702.56,1019.64 703.60,1017.10C704.83,1014.08 705.16,1009.61 706.90,1006.90C708.42,1004.54 710.57,1002.85 712.90,1001.40C715.36,999.87 718.55,999.02 721.40,998.10C724.18,997.20 726.98,996.55 729.80,995.90C732.62,995.25 735.27,994.61 738.30,994.20C741.72,993.74 746.24,993.75 749.30,993.40C751.52,993.14 752.42,992.83 755.00,992.50C760.38,991.81 771.66,990.63 780.00,990.00C788.33,989.38 796.67,989.25 805.00,988.75C813.34,988.25 821.67,987.62 830.00,987.00C838.33,986.37 846.67,985.63 855.00,985.00C863.33,984.38 871.66,983.75 880.00,983.25C888.33,982.75 896.67,982.54 905.00,982.00C913.34,981.46 921.66,980.33 930.00,980.00C938.33,979.67 948.67,978.51 955.00,980.00C959.23,981.00 961.59,984.54 965.00,985.00C968.26,985.44 971.69,982.81 975.00,983.00C978.36,983.20 981.30,986.04 985.00,986.25C989.47,986.50 996.03,983.04 1000.00,983.20C1002.66,983.31 1003.87,984.87 1006.60,985.10C1010.87,985.46 1017.73,983.67 1023.30,983.20C1028.83,982.74 1034.11,982.46 1039.90,982.30C1046.23,982.13 1055.06,983.64 1059.80,982.30C1062.78,981.46 1064.51,977.96 1066.50,978.20C1068.39,978.42 1070.10,983.51 1071.50,983.20C1073.33,982.79 1073.44,972.80 1075.60,971.80C1077.16,971.08 1079.40,973.92 1081.50,974.00C1083.84,974.08 1086.66,971.22 1089.00,971.80C1091.68,972.47 1093.19,977.99 1096.40,979.00C1100.30,980.22 1106.72,976.49 1111.40,976.50C1115.52,976.51 1119.28,977.77 1123.00,978.50C1126.47,979.18 1129.68,980.81 1133.00,980.70C1136.35,980.59 1140.30,978.98 1143.00,977.80C1145.02,976.92 1145.89,975.54 1148.00,974.80C1150.98,973.75 1156.27,973.04 1159.60,973.20C1162.15,973.32 1164.23,973.85 1166.30,974.80C1168.41,975.77 1170.71,979.38 1172.10,979.00C1173.41,978.64 1172.67,974.53 1174.60,973.20C1178.31,970.65 1189.45,972.15 1197.90,972.30C1207.99,972.48 1220.41,974.53 1231.10,974.80C1241.06,975.05 1251.70,974.00 1260.00,974.10C1266.30,974.18 1271.67,973.60 1276.60,974.90C1280.98,976.05 1285.14,978.35 1288.30,980.80C1291.06,982.94 1293.00,985.49 1294.90,988.30C1296.90,991.26 1298.11,994.66 1299.90,998.20C1301.97,1002.31 1303.51,1008.41 1306.60,1011.50C1309.26,1014.17 1313.66,1014.44 1316.50,1016.50C1319.13,1018.40 1321.14,1020.50 1323.20,1023.20C1325.64,1026.41 1327.64,1030.77 1329.80,1034.80C1332.08,1039.05 1334.32,1043.51 1336.50,1048.10C1338.79,1052.92 1341.03,1057.95 1343.20,1063.10C1345.47,1068.47 1346.79,1076.75 1349.80,1079.70C1351.71,1081.57 1354.03,1081.43 1356.50,1082.20C1359.46,1083.12 1363.22,1084.46 1366.40,1084.70C1369.30,1084.92 1372.37,1085.14 1374.80,1083.90C1377.44,1082.55 1378.97,1078.73 1381.40,1076.40C1383.92,1073.99 1386.93,1071.92 1389.70,1069.70C1392.46,1067.49 1395.56,1065.75 1398.00,1063.10C1400.60,1060.28 1402.32,1056.54 1404.70,1053.10C1407.29,1049.36 1410.08,1045.48 1413.00,1041.50C1416.15,1037.20 1419.60,1032.44 1423.00,1028.20C1426.27,1024.12 1429.99,1018.51 1433.00,1016.50C1434.74,1015.33 1436.21,1014.63 1437.90,1014.90C1440.04,1015.24 1442.97,1017.45 1444.60,1019.80C1446.58,1022.65 1446.59,1027.50 1447.90,1031.50C1449.32,1035.82 1450.98,1040.42 1452.90,1044.80C1454.87,1049.29 1457.07,1053.91 1459.60,1058.10C1462.08,1062.20 1465.21,1066.75 1467.90,1069.70C1469.87,1071.86 1471.77,1074.70 1473.70,1074.70C1475.63,1074.70 1477.67,1071.91 1479.50,1069.70C1481.92,1066.78 1483.55,1060.60 1486.20,1058.10C1488.17,1056.25 1490.43,1055.74 1492.80,1054.80C1495.37,1053.78 1498.42,1053.59 1501.10,1052.30C1504.01,1050.90 1506.76,1047.75 1509.50,1046.50C1511.74,1045.48 1514.04,1045.98 1516.10,1044.80C1518.53,1043.41 1520.43,1039.81 1522.80,1038.10C1524.89,1036.59 1527.25,1034.61 1529.40,1034.80C1531.69,1035.00 1534.23,1037.57 1536.10,1039.80C1538.26,1042.38 1539.59,1045.97 1541.10,1049.80C1542.98,1054.56 1544.48,1060.26 1546.00,1066.40C1547.84,1073.85 1549.38,1082.81 1551.00,1091.40C1552.72,1100.51 1554.55,1110.81 1556.00,1119.60C1557.27,1127.30 1557.73,1134.81 1559.30,1141.30C1560.63,1146.80 1561.79,1151.95 1564.30,1156.20C1566.64,1160.15 1571.07,1162.86 1573.50,1166.20C1575.56,1169.03 1576.39,1172.37 1578.30,1174.70C1579.99,1176.76 1582.38,1179.98 1584.10,1179.70C1586.04,1179.39 1587.69,1174.69 1589.10,1171.40C1590.88,1167.24 1591.94,1161.98 1593.20,1156.40C1594.76,1149.52 1596.13,1139.52 1597.40,1133.10C1598.30,1128.56 1598.65,1124.87 1599.90,1121.50C1600.96,1118.64 1602.67,1113.95 1604.00,1114.00C1605.44,1114.05 1606.96,1119.96 1608.20,1123.10C1609.47,1126.32 1609.77,1130.84 1611.50,1133.10C1612.81,1134.81 1614.78,1135.56 1616.50,1136.40C1618.12,1137.19 1620.08,1136.96 1621.50,1138.10C1623.23,1139.49 1624.27,1142.42 1625.60,1144.80C1627.05,1147.39 1628.25,1152.92 1629.80,1153.10C1631.10,1153.25 1632.47,1149.63 1634.00,1148.10C1635.53,1146.57 1637.27,1144.10 1639.00,1143.90C1640.58,1143.72 1642.53,1144.93 1643.90,1146.40C1645.82,1148.47 1646.90,1152.78 1648.10,1156.40C1649.45,1160.47 1650.34,1165.01 1651.40,1169.70C1652.58,1174.92 1653.68,1180.76 1654.80,1186.30C1655.92,1191.86 1656.47,1198.25 1658.10,1203.00C1659.42,1206.83 1661.52,1209.31 1663.10,1212.90C1664.88,1216.96 1666.71,1221.73 1668.10,1226.20C1669.47,1230.59 1669.91,1235.46 1671.40,1239.50C1672.75,1243.15 1674.59,1246.57 1676.40,1249.50C1677.96,1252.03 1679.79,1254.15 1681.40,1256.20C1682.81,1258.01 1684.06,1261.26 1685.50,1261.20C1687.31,1261.13 1689.41,1255.75 1691.30,1252.80C1693.31,1249.67 1695.58,1246.55 1697.20,1242.90C1698.98,1238.89 1700.11,1234.32 1701.30,1229.60C1702.62,1224.38 1703.53,1218.72 1704.60,1212.90C1705.77,1206.56 1706.64,1198.46 1708.00,1193.00C1708.98,1189.06 1709.79,1185.88 1711.30,1183.00C1712.64,1180.44 1714.24,1177.77 1716.30,1176.40C1718.17,1175.15 1721.46,1176.30 1722.90,1174.70C1724.79,1172.59 1723.97,1167.24 1724.60,1163.00C1725.35,1157.95 1726.14,1151.92 1727.10,1146.40C1728.07,1140.86 1729.12,1135.17 1730.40,1129.80C1731.63,1124.65 1732.80,1118.97 1734.60,1114.80C1736.02,1111.51 1737.79,1109.38 1739.60,1106.50C1741.62,1103.30 1743.50,1098.89 1746.20,1096.50C1748.58,1094.40 1752.16,1093.93 1754.50,1092.40C1756.47,1091.12 1758.00,1090.10 1759.50,1088.20C1761.46,1085.72 1762.41,1080.63 1764.50,1078.20C1766.17,1076.26 1768.57,1073.96 1770.30,1074.10C1771.87,1074.22 1773.27,1076.11 1774.50,1078.20C1776.71,1081.96 1777.96,1089.80 1779.50,1096.50C1781.34,1104.51 1782.54,1115.55 1784.50,1123.10C1786.00,1128.87 1786.89,1134.09 1789.50,1138.10C1791.80,1141.64 1795.89,1146.36 1798.60,1146.40C1800.74,1146.43 1802.57,1143.61 1804.40,1141.40C1806.82,1138.48 1808.55,1132.69 1811.10,1129.80C1813.10,1127.53 1815.35,1125.59 1817.70,1124.80C1819.81,1124.09 1822.23,1124.29 1824.40,1124.80C1826.67,1125.34 1828.85,1126.77 1831.00,1128.10C1833.29,1129.51 1837.70,1133.10 1837.70,1133.10"/>
</g>
<g stroke="#000" stroke-width="4" fill="none">
<line x1="76" y1="1334" x2="1841" y2="1334"/>
<line x1="78.3" y1="1332" x2="78.3" y2="1362"/>
<line x1="213.7" y1="1332" x2="213.7" y2="1349"/>
<line x1="349.1" y1="1332" x2="349.1" y2="1362"/>
<line x1="484.4" y1="1332" x2="484.4" y2="1349"/>
<line x1="619.8" y1="1332" x2="619.8" y2="1362"/>
<line x1="755.2" y1="1332" x2="755.2" y2="1349"/>
<line x1="890.6" y1="1332" x2="890.6" y2="1362"/>
<line x1="1026.0" y1="1332" x2="1026.0" y2="1349"/>
<line x1="1161.4" y1="1332" x2="1161.4" y2="1362"/>
<line x1="1296.7" y1="1332" x2="1296.7" y2="1349"/>
<line x1="1432.1" y1="1332" x2="1432.1" y2="1362"/>
<line x1="1567.5" y1="1332" x2="1567.5" y2="1349"/>
<line x1="1702.9" y1="1332" x2="1702.9" y2="1362"/>
<line x1="1838.3" y1="1332" x2="1838.3" y2="1349"/>
</g>
<g font-family='"Liberation Serif", "Times New Roman", serif' font-size="56" fill="#000" text-anchor="middle">
<text x="78.3" y="1421">4000</text>
<text x="349.1" y="1421">3500</text>
<text x="619.8" y="1421">3000</text>
<text x="890.6" y="1421">2500</text>
<text x="1161.4" y="1421">2000</text>
<text x="1432.1" y="1421">1500</text>
<text x="1702.9" y="1421">1000</text>
</g>
<text x="960" y="1543" font-family='"Liberation Serif", "Times New Roman", serif' font-size="70" text-anchor="middle" fill="#000">Wavenumber (cm<tspan font-size="42" dy="-33">-1</tspan><tspan dy="33">)</tspan></text>
<line x1="1552.5" y1="41.8" x2="1669" y2="41.8" stroke="#000000" stroke-width="2.1"/>
<text x="1680" y="58.2" font-family='"Liberation Serif", "Times New Roman", serif' font-size="51" fill="#000">SFP-C16</text>
<line x1="1552.5" y1="104.4" x2="1669" y2="104.4" stroke="#ff0000" stroke-width="2.8"/>
<text x="1680" y="120.6" font-family='"Liberation Serif", "Times New Roman", serif' font-size="51" fill="#000">SFP-C14</text>
<line x1="1552.5" y1="166.7" x2="1669" y2="166.7" stroke="#0000ff" stroke-width="3.9"/>
<text x="1680" y="183.0" font-family='"Liberation Serif", "Times New Roman", serif' font-size="51" fill="#000">SFP-C12</text>
<line x1="1552.5" y1="229.5" x2="1669" y2="229.5" stroke="#ff00ff" stroke-width="4.4"/>
<text x="1680" y="245.4" font-family='"Liberation Serif", "Times New Roman", serif' font-size="51" fill="#000">SFP</text>
<text x="524.0" y="698.2" font-family='"Liberation Serif", "Times New Roman", serif' font-size="44" fill="#000">-CH<tspan font-size="23" dx="2.5" dy="18.3">2</tspan><tspan dy="-18.3">-</tspan></text>
<text x="523.3" y="918.9" font-family='"Liberation Serif", "Times New Roman", serif' font-size="44" fill="#000">-CH<tspan font-size="23" dx="2.5" dy="18.3">2</tspan><tspan dy="-18.3">-</tspan></text>
<text x="525.3" y="1136.3" font-family='"Liberation Serif", "Times New Roman", serif' font-size="44" fill="#000">-CH<tspan font-size="23" dx="2.5" dy="18.3">2</tspan><tspan dy="-18.3">-</tspan></text>
<text x="1167.0" y="648.8" font-family='"Liberation Serif", "Times New Roman", serif' font-size="44.3" fill="#000">-C=O</text>
<text x="1182.1" y="905.0" font-family='"Liberation Serif", "Times New Roman", serif' font-size="44.3" fill="#000">-C=O</text>
<text x="1191.1" y="1144.7" font-family='"Liberation Serif", "Times New Roman", serif' font-size="44.3" fill="#000">-C=O</text>
<g stroke="#000" stroke-width="4">
<line x1="633.8" y1="669.5" x2="662.5" y2="628.8"/>
<line x1="624.0" y1="875.5" x2="655.0" y2="833.5"/>
<line x1="627.5" y1="1098.8" x2="656.2" y2="1057.0"/>
<line x1="1272.5" y1="644.6" x2="1336.5" y2="682.1"/>
<line x1="1284.5" y1="889.8" x2="1344.9" y2="879.2"/>
<line x1="1294.1" y1="1116.3" x2="1339.8" y2="1085.5"/>
</g></svg>
</body></html>
